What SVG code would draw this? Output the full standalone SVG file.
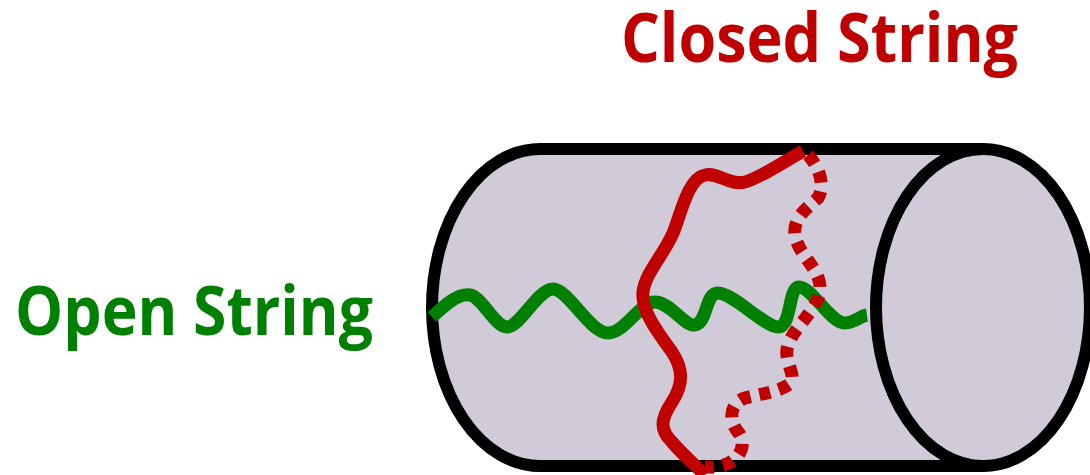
<svg xmlns="http://www.w3.org/2000/svg" width="1090" height="475" viewBox="0 0 1090 475">
  <style>
    .label { font-family: "Open Sans", "Noto Sans", "Liberation Sans", sans-serif; font-weight: bold; font-size: 68px; }
    .tube { fill: #D1CBD9; stroke: #000000; stroke-width: 12; stroke-linejoin: round; }
    .open { fill: none; stroke: #008000; stroke-width: 13; stroke-linecap: butt; stroke-linejoin: round; }
    .closed { fill: none; stroke: #C00000; stroke-width: 13; stroke-linejoin: round; }
    .hidden { stroke-dasharray: 11 9; }
  </style>
  <rect width="1090" height="475" fill="#ffffff"/>

  <!-- cylinder -->
  <g id="cylinder">
    <path class="tube" d="M540,149 L983,149 L983,466 L540,466 A108,158.5 0 0 1 540,149 Z"/>
    <ellipse class="tube" cx="983" cy="307.5" rx="107" ry="158.5"/>
  </g>

  <!-- strings -->
  <g id="open-string">
    <path class="open" d="M432,317 C445,305 458,293 470,295 C482,297 495,327 507,327 C520,327 538,289 553,289 C568,289 590,333 608,333 C625,333 640,302 655,302 C670,302 685,327 695,325 C708,322 705,293 718,293 C733,293 765,327 778,327 C792,327 788,287 799,287 C812,287 830,323 845,323 C855,323 860,316 867,315"/>
  </g>
  <g id="closed-string">
    <path class="closed hidden" d="M808,155 C818,165 826,185 818,198 C805,210 793,218 795,235 C798,255 822,270 820,290 C818,310 795,325 788,345 C782,362 800,378 788,385 C778,392 760,394 745,398 C730,403 728,420 738,432 C748,444 740,462 720,466 C712,468 708,467 705,467"/>
    <path class="closed" d="M803,151 C785,161 760,178 745,182 C730,186 718,172 705,175 C690,178 683,205 675,228 C668,250 645,272 643,292 C641,312 660,335 672,352 C684,370 683,385 672,402 C660,420 660,430 672,442 C682,454 695,465 705,475"/>
  </g>

  <!-- labels -->
  <g id="label-closed">
    <text class="label" x="621" y="62" fill="#C00000" textLength="397" lengthAdjust="spacingAndGlyphs">Closed String</text>
  </g>
  <g id="label-open">
    <text class="label" x="15" y="335" fill="#008000" textLength="358" lengthAdjust="spacingAndGlyphs">Open String</text>
  </g>
</svg>
